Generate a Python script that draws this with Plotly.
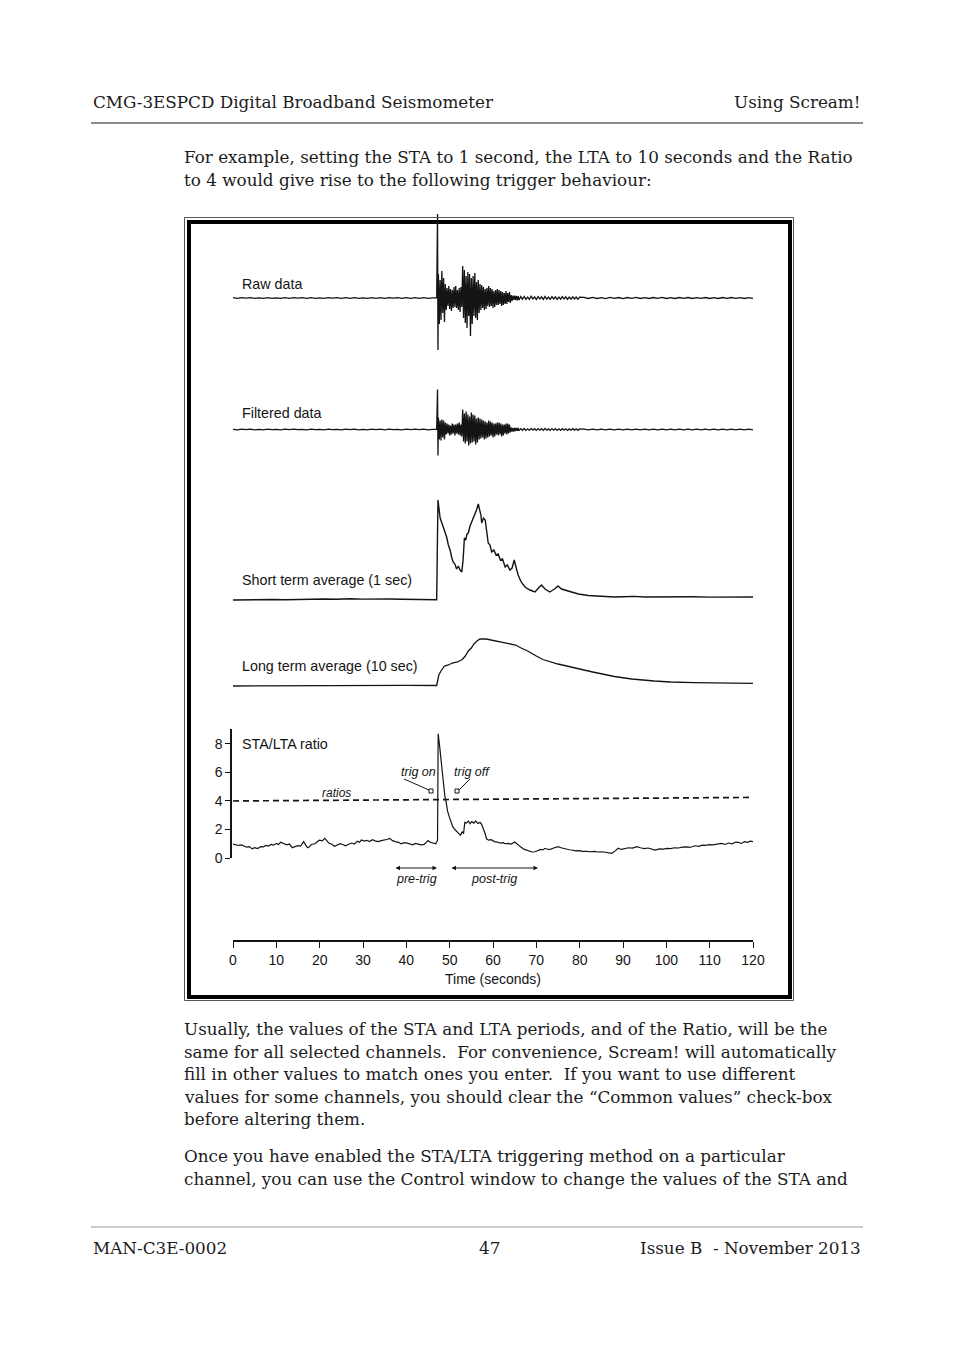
import plotly.graph_objects as go

W, H = 954, 1351


def px(x):
    return x / W


def py(y):
    return 1 - y / H


# ---------------- data ----------------
# sample times (s) shared by the raw and filtered seismograms
seis_t = [0, 1, 2, 3, 4, 5, 6, 7, 8, 9, 10, 11, 12, 13, 14, 15, 16, 17, 18, 19, 20, 21, 22, 23, 24, 25,
          26, 27, 28, 29, 30, 31, 32, 33, 34, 35, 36, 37, 38, 39, 40, 41, 42, 43, 44, 45, 46,
          47.0, 47.2, 47.3,
          47.4, 47.6, 47.8, 48.0, 48.2, 48.4, 48.6, 48.8, 49.0,
          49.2, 49.4, 49.6, 49.8, 50.0, 50.2, 50.4, 50.6, 50.8, 51.0,
          51.2, 51.4, 51.6, 51.8, 52.0, 52.2, 52.4, 52.6, 52.8, 53.0,
          53.2, 53.4, 53.6, 53.8, 54.0, 54.2, 54.4, 54.6, 54.8, 55.0,
          55.2, 55.4, 55.6, 55.8, 56.0, 56.2, 56.4, 56.6, 56.8, 57.0,
          57.2, 57.4, 57.6, 57.8, 58.0, 58.2, 58.4, 58.6, 58.8, 59.0,
          59.2, 59.4, 59.6, 59.8, 60.0, 60.2, 60.4, 60.6, 60.8, 61.0,
          61.2, 61.4, 61.6, 61.8, 62.0, 62.2, 62.4, 62.6, 62.8, 63.0,
          63.2, 63.4, 63.6, 63.8, 64.0, 64.2, 64.4, 64.6, 64.8, 65.0,
          65.2, 65.4, 65.6, 65.8, 66.0,
          66.4, 66.8, 67.2, 67.6, 68.0, 68.4, 68.8, 69.2, 69.6, 70.0,
          70.4, 70.8, 71.2, 71.6, 72.0, 72.4, 72.8, 73.2, 73.6, 74.0,
          74.4, 74.8, 75.2, 75.6, 76.0, 76.4, 76.8, 77.2, 77.6, 78.0,
          78.4, 78.8, 79.2, 79.6, 80.0,
          81, 82, 83, 84, 85, 86, 87, 88, 89, 90, 91, 92, 93, 94, 95, 96, 97, 98, 99, 100,
          101, 102, 103, 104, 105, 106, 107, 108, 109, 110, 111, 112, 113, 114, 115, 116, 117, 118, 119, 120]

raw_v = [0.3, -0.3, 0.4, -0.2, 0.3, -0.4, 0.2, -0.3, 0.4, -0.3,
         0.2, -0.4, 0.3, -0.3, 0.4, -0.2, 0.3, -0.3, 0.4, -0.3,
         0.2, -0.4, 0.3, -0.2, 0.3, -0.4, 0.4, -0.3, 0.3, -0.3,
         0.2, -0.3, 0.4, -0.3, 0.3, -0.4, 0.3, -0.2, 0.3, -0.3,
         0.4, -0.3, 0.3, -0.3, 0.4, -0.3, 0.2,
         0.2, 84, -52,
         24, -26, 18, -22, 27, -15, 20, -24, 14,
         -12, 10, -8, 12, -11, 9, -13, 8, -10, 11,
         -9, 12, -10, 8, -12, 10, -14, 11, -9, 32,
         -20, 28, -25, 22, -30, 26, -18, 24, -38, 20,
         -26, 22, -18, 25, -20, 16, -22, 18, -15, 14,
         -12, 13, -10, 11, -12, 9, -11, 10, -8, 12,
         -9, 10, -8, 9, -10, 7, -9, 8, -7, 9,
         -7, 8, -6, 7, -8, 6, -7, 5, -6, 7,
         -6, 5, -4, 6, -5, 3, -3, 2.5, -2, 2.5,
         -2, 2, -2.5, 2, -2,
         1.4, -1.2, 1.6, -1.3, 1.0, -1.4, 1.7, -0.9, 1.2, -1.5,
         1.3, -1.0, 1.2, -1.4, 1.6, -1.1, 0.9, -1.3, 1.4, -1.0,
         1.2, -1.3, 1.0, -1.2, 1.3, -0.9, 1.1, -1.3, 0.9, -1.1,
         1.2, -0.9, 1.0, -1.2, 0.9,
         0.6, -0.5, 0.7, -0.5, 0.4, -0.6, 0.6, -0.4, 0.5, -0.6,
         0.5, -0.4, 0.6, -0.5, 0.4, -0.5, 0.5, -0.4, 0.6, -0.5,
         0.4, -0.5, 0.5, -0.4, 0.5, -0.5, 0.4, -0.4, 0.5, -0.5,
         0.4, -0.5, 0.5, -0.4, 0.5, -0.4, 0.4, -0.5, 0.4, -0.4]

filt_v = [0.2, -0.3, 0.3, -0.2, 0.3, -0.3, 0.2, -0.3, 0.3, -0.2,
          0.2, -0.3, 0.3, -0.2, 0.3, -0.2, 0.2, -0.3, 0.3, -0.2,
          0.2, -0.3, 0.3, -0.2, 0.2, -0.3, 0.3, -0.2, 0.3, -0.3,
          0.2, -0.3, 0.3, -0.2, 0.3, -0.3, 0.3, -0.2, 0.2, -0.3,
          0.3, -0.2, 0.3, -0.2, 0.3, -0.3, 0.2,
          0.2, 40, -26,
          12, -10, 9, -11, 10, -8, 9, -10, 7,
          -5, 6, -4, 5, -6, 4, -5, 6, -4, 5,
          -6, 5, -4, 6, -5, 7, -6, 5, -7, 20,
          -12, 16, -14, 18, -12, 15, -16, 13, -14, 17,
          -13, 15, -12, 14, -15, 11, -13, 12, -10, 11,
          -9, 10, -8, 9, -10, 8, -9, 7, -8, 9,
          -7, 8, -6, 7, -8, 6, -7, 6, -5, 7,
          -6, 7, -5, 6, -7, 5, -6, 5, -4, 6,
          -5, 6, -4, 5, -3, 2, -2, 1.5, -2, 1.5,
          -1.5, 1.5, -1.2, 1.5, -1.2,
          0.9, -0.8, 1.0, -0.9, 0.7, -0.9, 1.1, -0.6, 0.8, -0.9,
          0.9, -0.7, 0.8, -0.9, 1.0, -0.7, 0.6, -0.9, 0.9, -0.7,
          0.8, -0.9, 0.7, -0.8, 0.9, -0.6, 0.7, -0.9, 0.6, -0.7,
          0.8, -0.6, 0.7, -0.8, 0.6,
          0.4, -0.3, 0.4, -0.4, 0.3, -0.4, 0.4, -0.3, 0.3, -0.4,
          0.4, -0.3, 0.4, -0.3, 0.3, -0.4, 0.3, -0.3, 0.4, -0.3,
          0.3, -0.3, 0.3, -0.3, 0.3, -0.3, 0.3, -0.3, 0.3, -0.3,
          0.3, -0.3, 0.3, -0.3, 0.3, -0.3, 0.3, -0.3, 0.3, -0.3]

sta_t = [0, 3, 6, 9, 12, 15, 18, 21, 24, 27, 30, 33, 36, 39, 42, 45, 47.0,
         47.3, 47.5, 47.8, 48.2, 48.6, 49.0, 49.3, 49.7, 50.1, 50.5,
         50.8, 51.2, 51.6, 52.0, 52.4, 52.8, 53.1, 53.4, 53.7, 54.0,
         54.3, 54.7, 55.1, 55.5, 55.9, 56.2, 56.6, 56.9, 57.2, 57.4,
         57.8, 58.2, 58.6, 58.9, 59.3, 59.7, 60.2, 60.7, 61.2, 61.7,
         62.2, 62.8, 63.3, 63.9, 64.4, 64.9, 65.3, 65.8, 66.5, 67.4,
         68.5, 69.7, 70.5, 71.2, 72.0, 73.1, 74.2, 75.0, 75.8, 76.6,
         78.0, 79.7, 82.0, 85.8, 88.0, 90.0, 92.5, 95.0, 98.0, 102.0,
         106.0, 110.0, 115.0, 120.0]
sta_v = [0, 0.3, 0, 0.5, 0.2, 0.6, 0.4, 1, 0.7, 1.2, 0.9, 1.3, 1, 0.8, 0.6, 0.4, 0.3,
         100, 92, 82, 77, 72, 68, 63, 55, 50, 42,
         38, 36, 31, 34, 30, 28, 40, 62, 60, 66,
         67, 74, 78, 83, 87, 90, 96, 91, 85, 77,
         82, 80, 65, 57, 55, 48, 50, 45, 46, 40,
         41, 33, 35, 30, 32, 40, 33, 25, 18, 13,
         10, 8, 12, 15, 11, 8, 11, 14, 11, 10,
         8, 6, 4.5, 3.3, 3, 3.3, 3.6, 3, 3.2, 3,
         3.2, 2.9, 3.1, 3]

lta_t = [0, 10, 20, 30, 40, 47.0, 47.3, 47.5, 48.0, 48.8, 49.7, 50.6, 51.8, 52.9, 53.6,
         54.3, 55.0, 55.6, 56.3, 57.0, 58.4, 59.5, 60.7, 63.0, 65.2, 66.5, 68.0, 70.0, 71.5,
         75.0, 78.9, 83.0, 88.0, 92.0, 97.2, 101.0, 106.3, 113.0, 120]
lta_v = [0, 0.3, 0.5, 0.8, 0.6, 0.5, 6, 11, 15, 20, 21, 23, 24, 26.5, 30,
         35, 38, 42, 45, 47, 47, 46, 45, 43, 41, 38, 35, 30, 26.5,
         22, 18, 14, 9.5, 7, 5, 4, 3.4, 3, 2.6]

ratio_t = [0, 0.7, 1.3, 2.0, 2.6, 3.1, 3.8, 4.4, 5.0, 5.7,
           6.4, 7.0, 7.5, 8.2, 8.8, 9.3, 10.0, 10.5, 11.0, 11.7,
           12.4, 13.0, 13.7, 14.3, 15.0, 15.6, 16.3, 16.8, 17.2, 17.7,
           18.1, 18.9, 19.4, 19.9, 20.6, 21.2, 21.7, 22.1, 22.8, 23.4,
           24.0, 24.7, 25.3, 26.0, 26.7, 27.4, 28.0, 28.7, 29.2, 29.6,
           30.3, 30.9, 31.5, 32.2, 32.8, 33.5, 34.2, 34.9, 35.5, 36.2,
           36.8, 37.5, 38.2, 38.8, 39.5, 40.2, 40.8, 41.5, 42.1, 42.8,
           43.4, 44.1, 44.6, 45.0, 45.5, 45.9, 46.4, 46.8, 47.2,
           47.35, 47.7, 47.9, 48.1, 48.3, 48.6, 48.9, 49.2, 49.5, 49.9,
           50.3, 50.7, 51.2, 51.6, 52.0, 52.5, 52.9, 53.2, 53.5, 53.9,
           54.3, 54.7, 55.1, 55.6, 56.0, 56.5, 57.0, 57.4, 57.8, 58.2,
           58.5, 59.0, 59.6, 60.3, 61.0, 61.7, 62.3, 62.8, 63.5, 64.2,
           65.0, 65.6, 66.3, 67.1, 67.8, 68.4, 69.0, 69.7, 70.4, 71.0,
           71.6, 72.0, 72.7, 73.4, 74.0, 75.0, 75.7, 76.3, 77.0, 77.6,
           78.2, 79.0, 79.9, 80.6, 81.6, 82.4, 83.4, 84.2, 85.2, 86.0,
           86.9, 87.4, 88.2, 88.9, 89.6, 90.4, 91.3, 92.2, 93.2, 94.0,
           94.9, 95.8, 96.6, 97.4, 98.4, 99.3, 100.2, 101.0, 101.9, 102.8,
           103.7, 104.6, 105.4, 106.6, 107.5, 108.3, 109.0, 110.0, 110.7, 111.6,
           112.8, 113.6, 114.3, 115.2, 116.0, 116.6, 117.4, 118.0, 118.7, 119.4,
           120]
ratio_v = [0.98, 0.95, 0.88, 0.92, 0.8, 0.76, 0.8, 0.64, 0.72, 0.66,
           0.8, 0.78, 0.88, 0.84, 0.96, 0.9, 1.02, 0.95, 1.1, 1.0,
           0.92, 0.98, 0.72, 0.8, 0.87, 0.84, 1.15, 0.9, 0.72, 0.8,
           0.95, 1.0, 1.1, 1.25, 1.2, 1.38, 1.2, 1.05, 0.96, 0.82,
           0.9, 1.0, 0.95, 0.86, 0.96, 1.05, 0.98, 1.18, 1.1, 1.26,
           1.18, 1.24, 1.15, 1.28, 1.2, 1.15, 1.22, 1.24, 1.3, 1.38,
           1.22, 1.15, 1.1, 1.0, 1.08, 1.04, 0.98, 0.92, 1.02, 0.98,
           0.92, 0.95, 1.1, 1.22, 1.1, 1.08, 1.05, 1.0, 1.25,
           8.71, 7.8, 7.2, 6.4, 5.8, 4.8, 4.3, 3.9, 3.3, 2.9,
           2.5, 2.2, 2.0, 1.9, 1.75, 1.6, 1.85, 1.7, 2.5, 2.45,
           2.6, 2.4, 2.55, 2.45, 2.6, 2.42, 2.5, 2.35, 2.05, 1.7,
           1.35, 1.25, 1.28, 1.15, 1.12, 1.05, 1.08, 1.0, 1.02, 0.98,
           1.12, 0.95, 0.8, 0.62, 0.55, 0.45, 0.42, 0.44, 0.52, 0.6,
           0.58, 0.68, 0.6, 0.62, 0.7, 0.8, 0.72, 0.66, 0.62, 0.58,
           0.56, 0.5, 0.52, 0.46, 0.47, 0.44, 0.46, 0.42, 0.44, 0.4,
           0.36, 0.33, 0.5, 0.68, 0.6, 0.64, 0.72, 0.7, 0.8, 0.72,
           0.66, 0.7, 0.62, 0.56, 0.64, 0.62, 0.68, 0.66, 0.72, 0.7,
           0.76, 0.78, 0.74, 0.86, 0.82, 0.9, 0.88, 0.94, 0.92, 0.98,
           1.03, 0.95, 1.05, 1.0, 1.12, 1.1, 1.02, 1.15, 1.1, 1.18,
           1.15]

threshold_t = [0, 120]
threshold_v = [4.0, 4.25]

assert len(seis_t) == len(raw_v) == len(filt_v)
assert len(sta_t) == len(sta_v)
assert len(lta_t) == len(lta_v)
assert len(ratio_t) == len(ratio_v)

time_ticks = [0, 10, 20, 30, 40, 50, 60, 70, 80, 90, 100, 110, 120]
ratio_ticks = [0, 2, 4, 6, 8]

header_left = "CMG-3ESPCD Digital Broadband Seismometer"
header_right = "Using Scream!"
intro_lines = [
    "For example, setting the STA to 1 second, the LTA to 10 seconds and the Ratio",
    "to 4 would give rise to the following trigger behaviour:",
]
body_lines = [
    "Usually, the values of the STA and LTA periods, and of the Ratio, will be the",
    "same for all selected channels.\u00a0 For convenience, Scream! will automatically",
    "fill in other values to match ones you enter.\u00a0 If you want to use different",
    "values for some channels, you should clear the \u201cCommon values\u201d check-box",
    "before altering them.",
]
body2_lines = [
    "Once you have enabled the STA/LTA triggering method on a particular",
    "channel, you can use the Control window to change the values of the STA and",
]
footer_left = "MAN-C3E-0002"
footer_mid = "47"
footer_right = "Issue B\u00a0 - November 2013"

# ---------------- figure ----------------
INK = "#141414"
SANS = "Liberation Sans, Arial, sans-serif"
SERIF = "DejaVu Serif, serif"

fig = go.Figure()
fig.add_trace(go.Scatter(x=seis_t, y=raw_v, yaxis="y2", mode="lines",
                         line=dict(color=INK, width=1.3)))
fig.add_trace(go.Scatter(x=seis_t, y=filt_v, yaxis="y3", mode="lines",
                         line=dict(color=INK, width=1.3)))
fig.add_trace(go.Scatter(x=sta_t, y=sta_v, yaxis="y4", mode="lines",
                         line=dict(color=INK, width=1.4)))
fig.add_trace(go.Scatter(x=lta_t, y=lta_v, yaxis="y5", mode="lines",
                         line=dict(color=INK, width=1.3)))
fig.add_trace(go.Scatter(x=ratio_t, y=ratio_v, yaxis="y", mode="lines",
                         line=dict(color=INK, width=1.2)))
fig.add_trace(go.Scatter(x=threshold_t, y=threshold_v, yaxis="y", mode="lines",
                         line=dict(color=INK, width=1.7, dash="6px,4px")))

hidden = dict(visible=False, showgrid=False, zeroline=False, fixedrange=True, anchor="x",
              automargin=False)

fig.update_layout(
    template="none",
    width=W, height=H, autosize=False,
    margin=dict(l=0, r=0, t=0, b=0, pad=0, autoexpand=False),
    paper_bgcolor="white", plot_bgcolor="rgba(0,0,0,0)",
    showlegend=False,
    xaxis=dict(domain=[px(233), px(753)], range=[0, 120], anchor="free", position=py(941),
               automargin=False,
               showline=True, linecolor=INK, linewidth=1.5, ticks="outside", ticklen=6,
               tickwidth=1.3, tickcolor=INK, tickvals=time_ticks, showgrid=False, zeroline=False,
               tickfont=dict(family=SANS, size=14, color=INK),
               title=dict(text="Time (seconds)", standoff=7,
                          font=dict(family=SANS, size=14, color=INK))),
    yaxis=dict(domain=[py(858), py(729)], range=[0, 9.05], anchor="free", position=px(231),
               automargin=False,
               showline=True, linecolor=INK, linewidth=1.5, ticks="outside", ticklen=5,
               tickwidth=1.3, tickcolor=INK, tickvals=ratio_ticks, showgrid=False, zeroline=False,
               tickfont=dict(family=SANS, size=14, color=INK)),
    yaxis2=dict(domain=[py(362), py(208)], range=[-64, 90], **hidden),
    yaxis3=dict(domain=[py(470), py(380)], range=[-40.5, 49.5], **hidden),
    yaxis4=dict(domain=[py(610), py(490)], range=[-10, 110], **hidden),
    yaxis5=dict(domain=[py(700), py(620)], range=[-14, 66], **hidden),
)

shapes = []
# header / footer rules
shapes.append(dict(type="line", xref="paper", yref="paper", x0=px(91), x1=px(863),
                   y0=py(123), y1=py(123), line=dict(color="#666", width=1.5)))
shapes.append(dict(type="line", xref="paper", yref="paper", x0=px(91), x1=px(863),
                   y0=py(1227), y1=py(1227), line=dict(color="#999", width=1)))
# figure frame: thin outer + heavy inner
shapes.append(dict(type="rect", xref="paper", yref="paper", x0=px(184.5), x1=px(793.5),
                   y0=py(1000.5), y1=py(217.5), line=dict(color="#555", width=1)))
shapes.append(dict(type="rect", xref="paper", yref="paper", x0=px(189), x1=px(790),
                   y0=py(997), y1=py(222), line=dict(color="#000", width=4)))
# trig on / trig off leaders and markers
shapes.append(dict(type="line", xref="paper", yref="paper", x0=px(404), y0=py(779),
                   x1=px(429), y1=py(790), line=dict(color=INK, width=1)))
shapes.append(dict(type="rect", xref="paper", yref="paper", x0=px(429), y0=py(793),
                   x1=px(433), y1=py(789), line=dict(color=INK, width=1)))
shapes.append(dict(type="line", xref="paper", yref="paper", x0=px(470), y0=py(779),
                   x1=px(459), y1=py(790), line=dict(color=INK, width=1)))
shapes.append(dict(type="rect", xref="paper", yref="paper", x0=px(455), y0=py(793),
                   x1=px(459), y1=py(789), line=dict(color=INK, width=1)))
fig.update_layout(shapes=shapes)

ann = []


def label(text, x, y, anchor="left", size=14, family=SANS, color=INK, italic=False):
    ann.append(dict(text=text, x=px(x), y=py(y), xref="paper", yref="paper",
                    xanchor=anchor, yanchor="middle", showarrow=False,
                    font=dict(family=family, size=size, color=color,
                              style="italic" if italic else "normal")))


# panel labels
label("Raw data", 240, 284, size=14.3)
label("Filtered data", 240, 413, size=14.3)
label("Short term average (1 sec)", 240, 580, size=14.3)
label("Long term average (10 sec)", 240, 666, size=14.3)
label("STA/LTA ratio", 240, 744, size=14.3)
label("ratios", 336, 793, anchor="center", size=12, italic=True)
label("trig on", 418, 772, anchor="center", size=12.5, italic=True)
label("trig off", 472, 772, anchor="center", size=12.5, italic=True)
label("pre-trig", 416, 879, anchor="center", size=12.5, italic=True)
label("post-trig", 494, 879, anchor="center", size=12.5, italic=True)

# pre / post trigger double arrows
for x0, x1 in [(394, 437), (450, 538)]:
    ann.append(dict(x=px(x1), y=py(868), xref="paper", yref="paper", ax=-(x1 - x0), ay=0,
                    axref="pixel", ayref="pixel", text="", showarrow=True, arrowhead=2,
                    startarrowhead=2, arrowside="end+start", arrowsize=0.9, startarrowsize=0.9,
                    arrowwidth=1, arrowcolor=INK))

# page text
PAGE = "#1c1c1c"
FS = 16.8
label(header_left, 91, 102, size=FS, family=SERIF, color=PAGE)
label(header_right, 863, 102, anchor="right", size=FS, family=SERIF, color=PAGE)
for i, t in enumerate(intro_lines):
    label(t, 182, 157 + 23 * i, size=FS, family=SERIF, color=PAGE)
for i, t in enumerate(body_lines):
    label(t, 182, 1029 + 22.6 * i, size=FS, family=SERIF, color=PAGE)
for i, t in enumerate(body2_lines):
    label(t, 182, 1156 + 22.6 * i, size=FS, family=SERIF, color=PAGE)
label(footer_left, 91, 1248, size=FS, family=SERIF, color=PAGE)
label(footer_mid, 490, 1248, anchor="center", size=FS, family=SERIF, color=PAGE)
label(footer_right, 863, 1248, anchor="right", size=FS, family=SERIF, color=PAGE)

fig.update_layout(annotations=ann)
fig.write_html("out.html")
